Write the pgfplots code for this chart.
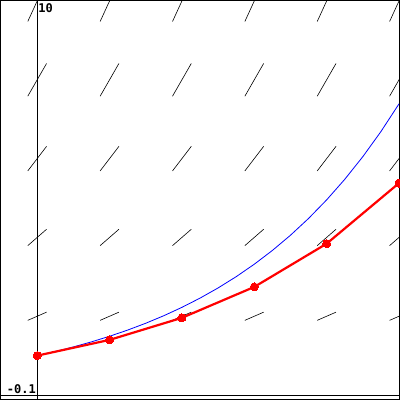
\documentclass[border=0pt]{standalone}
\usepackage{pgfplots}
\pgfplotsset{compat=1.18}
\usepackage{fontspec}
\setmonofont{DejaVu Sans Mono}
\begin{document}
\begin{tikzpicture}
\begin{axis}[
  scale only axis, width=398pt, height=398pt,
  xmin=-0.1, xmax=1, ymin=-0.1, ymax=10,
  xtick=\empty, ytick=\empty,
  axis line style={black, line width=1pt},
  clip=true,
]
% slope field y' = 2y: start x, start y, dx, dy
\addplot[black, line width=0.6pt, quiver={u=\thisrow{u}, v=\thisrow{v}}] table {
x y u v
-0.026 0 0.052 0
0.174 0 0.052 0
0.374 0 0.052 0
0.574 0 0.052 0
0.774 0 0.052 0
0.974 0 0.052 0
-0.026 1.896 0.052 0.208
0.174 1.896 0.052 0.208
0.374 1.896 0.052 0.208
0.574 1.896 0.052 0.208
0.774 1.896 0.052 0.208
0.974 1.896 0.052 0.208
-0.026 3.792 0.052 0.416
0.174 3.792 0.052 0.416
0.374 3.792 0.052 0.416
0.574 3.792 0.052 0.416
0.774 3.792 0.052 0.416
0.974 3.792 0.052 0.416
-0.026 5.688 0.052 0.624
0.174 5.688 0.052 0.624
0.374 5.688 0.052 0.624
0.574 5.688 0.052 0.624
0.774 5.688 0.052 0.624
0.974 5.688 0.052 0.624
-0.026 7.584 0.052 0.832
0.174 7.584 0.052 0.832
0.374 7.584 0.052 0.832
0.574 7.584 0.052 0.832
0.774 7.584 0.052 0.832
0.974 7.584 0.052 0.832
-0.026 9.48 0.052 1.04
0.174 9.48 0.052 1.04
0.374 9.48 0.052 1.04
0.574 9.48 0.052 1.04
0.774 9.48 0.052 1.04
0.974 9.48 0.052 1.04
};
% axes through origin
\addplot[black, line width=0.8pt] coordinates {(0,-0.1) (0,10)};
\addplot[black, line width=0.8pt] coordinates {(-0.1,0) (1,0)};
% exact solution
\addplot[blue, line width=0.8pt] coordinates {
(0,1) (0.05,1.1052) (0.1,1.2214) (0.15,1.3499) (0.2,1.4918) (0.25,1.6487)
(0.3,1.8221) (0.35,2.0138) (0.4,2.2255) (0.45,2.4596) (0.5,2.7183)
(0.55,3.0042) (0.6,3.3201) (0.65,3.6693) (0.7,4.0552) (0.75,4.4817)
(0.8,4.9530) (0.85,5.4739) (0.9,6.0496) (0.95,6.6859) (1,7.3891)
};
% Euler approximation
\addplot[red, line width=2.2pt, mark=*, mark size=4pt, mark options={fill=red, draw=red, line width=0pt}] coordinates {
(0,1) (0.2,1.4) (0.4,1.96) (0.6,2.744) (0.8,3.8416) (1,5.37824)
};
\node[anchor=north west, inner sep=0pt, font=\ttfamily\bfseries\fontsize{12}{12}\selectfont] at (axis cs:0.003,9.95) {10};
\node[anchor=base east, inner sep=0pt, font=\ttfamily\bfseries\fontsize{12}{12}\selectfont] at (axis cs:-0.003,0.03) {-0.1};
\end{axis}
\pgfresetboundingbox
\path ([shift={(-1pt,-1pt)}]current axis.south west) rectangle ([shift={(1pt,1pt)}]current axis.north east);
\end{tikzpicture}
\end{document}
